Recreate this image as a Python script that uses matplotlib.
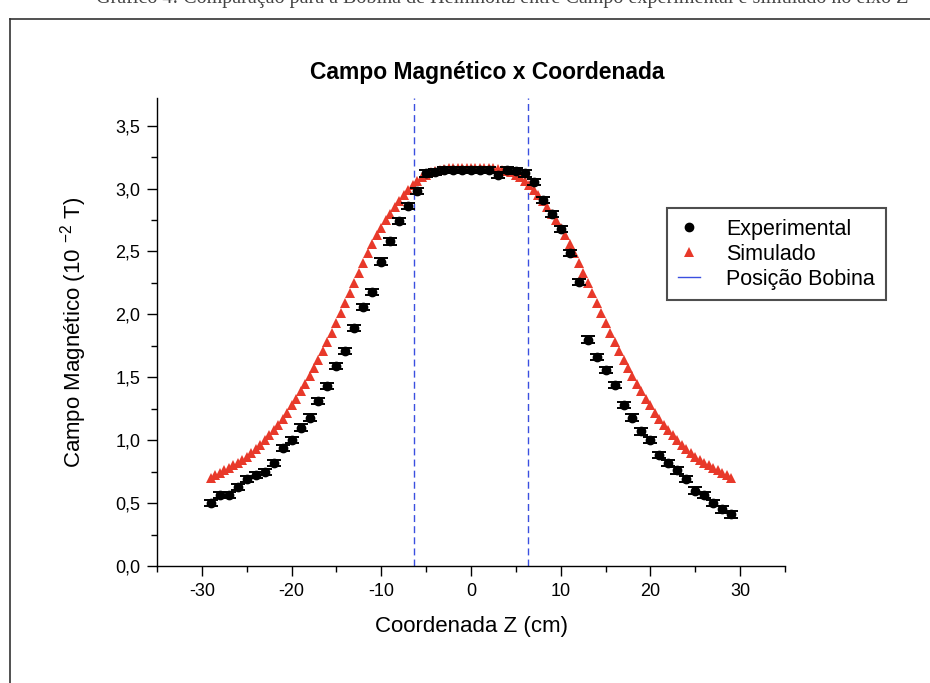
import matplotlib
matplotlib.use("Agg")
import matplotlib.pyplot as plt
from matplotlib.ticker import MultipleLocator, FuncFormatter
from matplotlib.lines import Line2D

plt.rcParams['font.family'] = ['Liberation Sans', 'DejaVu Sans']
plt.rcParams['mathtext.fontset'] = 'custom'
plt.rcParams['mathtext.rm'] = 'Liberation Sans'
plt.rcParams['mathtext.default'] = 'regular'

# Experimental data (z in cm, B in 10^-2 T)
exp_z = list(range(-29, 30))
exp_b = [0.50, 0.565, 0.565, 0.63, 0.69, 0.725, 0.75, 0.82, 0.94, 1.00,
         1.10, 1.18, 1.31, 1.43, 1.59, 1.71, 1.89, 2.06, 2.18, 2.42,
         2.58, 2.74, 2.86, 2.98, 3.12, 3.13, 3.15, 3.15, 3.15, 3.15,
         3.15, 3.15, 3.11, 3.15, 3.14, 3.12, 3.05, 2.91, 2.80, 2.68,
         2.49, 2.26, 1.80, 1.66, 1.56, 1.44, 1.28, 1.18, 1.07, 1.00,
         0.88, 0.82, 0.76, 0.69, 0.60, 0.565, 0.50, 0.45, 0.41]
exp_err = 0.025

# Simulated data (every 0.5 cm)
sim_z = [i * 0.5 for i in range(-58, 59)]
sim_b_neg = [0.70, 0.72, 0.74, 0.76, 0.78, 0.80, 0.82, 0.84, 0.87, 0.90,
             0.93, 0.96, 1.00, 1.04, 1.08, 1.12, 1.17, 1.22, 1.28, 1.33,
             1.39, 1.45, 1.51, 1.57, 1.64, 1.71, 1.78, 1.85, 1.93, 2.01,
             2.09, 2.17, 2.25, 2.33, 2.41, 2.49, 2.56, 2.63, 2.69, 2.75,
             2.80, 2.85, 2.90, 2.95, 2.99, 3.03, 3.06, 3.09, 3.11, 3.13,
             3.14, 3.15, 3.155, 3.16, 3.16, 3.16, 3.16, 3.16]
sim_b_mid = [3.16]
sim_b_pos = [3.16, 3.16, 3.16, 3.16, 3.16, 3.155, 3.15, 3.14, 3.13, 3.11,
             3.09, 3.06, 3.03, 2.99, 2.95, 2.90, 2.85, 2.80, 2.75, 2.69,
             2.63, 2.56, 2.49, 2.41, 2.33, 2.25, 2.17, 2.09, 2.01, 1.93,
             1.85, 1.78, 1.71, 1.64, 1.57, 1.51, 1.45, 1.39, 1.33, 1.28,
             1.22, 1.17, 1.12, 1.08, 1.04, 1.00, 0.96, 0.93, 0.90, 0.87,
             0.84, 0.82, 0.80, 0.78, 0.76, 0.74, 0.72, 0.70]
sim_b = sim_b_neg + sim_b_mid + sim_b_pos

coil_pos = [-6.3, 6.3]

title = "Campo Magnético x Coordenada"
xlabel = "Coordenada Z (cm)"
ylabel = r"Campo Magnético (10 $^{-2}$ T)"
legend_labels = ["Experimental", "Simulado", "Posição Bobina"]
caption = "Gráfico 4: Comparação para a Bobina de Helmholtz entre Campo experimental e simulado no eixo Z"

W, H = 930, 683
fig = plt.figure(figsize=(W / 100, H / 100), dpi=100)

# page frame and (cut) caption, as in the scanned page
fig.add_artist(Line2D([10 / W, 1.0], [1 - 19 / H, 1 - 19 / H], color='#333333', lw=1.2))
fig.add_artist(Line2D([10 / W, 10 / W], [0, 1 - 19 / H], color='#333333', lw=1.2))
fig.text(0.54, 1 + 2 / H, caption, ha='center', va='center', fontsize=14.5,
         family='Liberation Serif', color='#444444')

ax = fig.add_axes([157 / W, (H - 566) / H, (785 - 157) / W, (566 - 98) / H])

red = '#e8392a'
blue = '#3a4fe0'

ax.plot(sim_z, sim_b, linestyle='none', marker='^', color=red, markersize=7.5,
        markeredgewidth=0, zorder=2)
ax.errorbar(exp_z, exp_b, yerr=exp_err, fmt='o', color='black', markersize=6,
            ecolor='black', elinewidth=1.4, capsize=5, capthick=1.4, zorder=3)
for c in coil_pos:
    ax.axvline(c, color=blue, linestyle=(0, (5, 3)), linewidth=1.0, zorder=1)

ax.set_xlim(-35, 35)
ax.set_ylim(0, 3.72)
ax.xaxis.set_major_locator(MultipleLocator(10))
ax.xaxis.set_minor_locator(MultipleLocator(5))
ax.yaxis.set_major_locator(MultipleLocator(0.5))
ax.yaxis.set_minor_locator(MultipleLocator(0.25))
ax.yaxis.set_major_formatter(FuncFormatter(lambda v, p: f"{v:.1f}".replace('.', ',')))
ax.xaxis.set_major_formatter(FuncFormatter(lambda v, p: f"{v:.0f}"))
ax.tick_params(which='major', direction='out', length=7, width=1, labelsize=13, pad=5)
ax.tick_params(which='minor', direction='out', length=4, width=1)
ax.spines['top'].set_visible(False)
ax.spines['right'].set_visible(False)
ax.spines['left'].set_linewidth(1.0)
ax.spines['bottom'].set_linewidth(1.0)

ax.set_xlabel(xlabel, fontsize=16, labelpad=12)
ax.set_ylabel(ylabel, fontsize=16, labelpad=19)
fig.text(487 / W, 1 - 72 / H, title, ha='center', va='center', fontsize=16.5,
         fontweight='bold')

handles = [
    Line2D([], [], linestyle='none', marker='o', color='black', markersize=6),
    Line2D([], [], linestyle='none', marker='^', color=red, markersize=7.5, markeredgewidth=0),
    Line2D([], [], color=blue, linestyle='-', linewidth=1.0),
]
leg = fig.legend(handles, legend_labels, loc='upper left',
                 bbox_to_anchor=(667 / W, 1 - 208 / H), fontsize=15.5,
                 frameon=True, fancybox=False, edgecolor='#222222',
                 handlelength=1.05, handletextpad=1.2, labelspacing=0.18,
                 borderpad=0.5, borderaxespad=0)
leg.get_frame().set_linewidth(1.5)

fig.savefig("out.png", dpi=100)
